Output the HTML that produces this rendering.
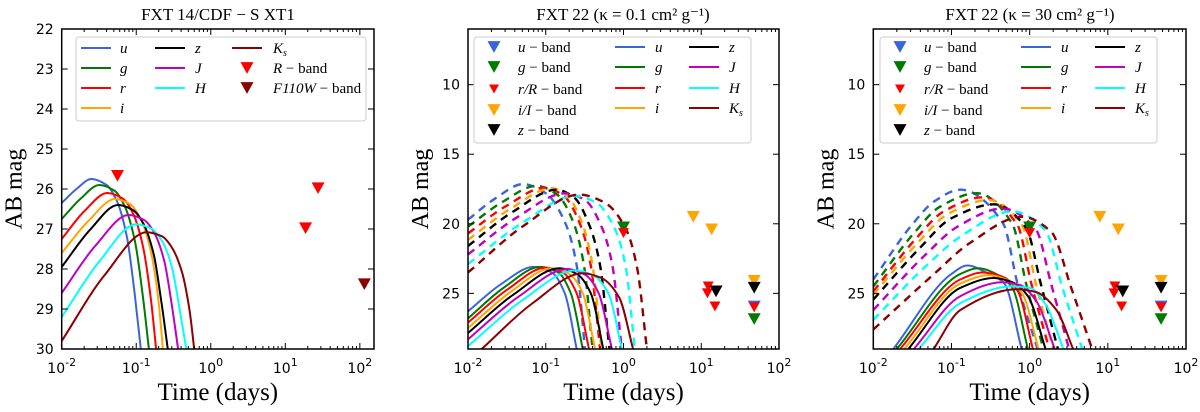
<!DOCTYPE html>
<html><head><meta charset="utf-8">
<style>
html,body{margin:0;padding:0;background:#fff;}
svg{display:block;}
.tick{font-family:"DejaVu Sans","Liberation Sans",sans-serif;font-size:14px;fill:#000;}
.ser{font-family:"Liberation Serif","DejaVu Serif",serif;fill:#000;}
.it{font-style:italic;}
</style></head>
<body>
<svg id="chart" width="1200" height="412" viewBox="0 0 1200 412" xmlns="http://www.w3.org/2000/svg"></svg>
<script>
const bandNames = ['u','g','r','i','z','J','H','Ks'];
const bandColors = ['#3a64dc','#007a00','#ff0000','#ffa500','#000000','#bf00bf','#00ffff','#8b0000'];

// Panel 1 model curves (time in days, AB mag)
const p1T = [
 [0.01,0.016,0.025,0.04,0.055,0.075,0.095,0.115],
 [0.01,0.018,0.032,0.051,0.070,0.096,0.122,0.148],
 [0.01,0.02,0.041,0.066,0.09,0.123,0.156,0.185],
 [0.01,0.023,0.052,0.083,0.114,0.156,0.198,0.228],
 [0.01,0.024,0.057,0.091,0.125,0.171,0.217,0.265],
 [0.01,0.028,0.079,0.126,0.174,0.237,0.30,0.365],
 [0.01,0.032,0.10,0.16,0.22,0.30,0.38,0.47],
 [0.01,0.037,0.138,0.22,0.30,0.41,0.52,0.6]];
const p1M = [
 [26.35,25.99,25.75,25.9,26.3,27.2,28.6,30],
 [26.75,26.24,25.9,26.04,26.43,27.3,28.65,30],
 [27.25,26.56,26.1,26.24,26.6,27.43,28.7,30],
 [27.6,26.79,26.25,26.38,26.74,27.53,28.76,30],
 [27.95,27.02,26.4,26.53,26.87,27.62,28.81,30],
 [28.6,27.43,26.65,26.77,27.09,27.79,28.9,30],
 [29.2,27.81,26.88,26.99,27.29,27.94,28.97,30],
 [29.8,28.17,27.08,27.18,27.46,28.07,29.04,30]];
const p1RbandT = [0.056,18.7,27.5];
const p1RbandM = [25.67,26.98,25.98];
const p1F110T = [115];
const p1F110M = [28.38];

// Panel 2 (kappa=0.1) solid model curves
const p2sT = [
 [0.01,0.026,0.07,0.12,0.176,0.25],
 [0.01,0.029,0.085,0.145,0.21,0.30],
 [0.01,0.032,0.10,0.17,0.25,0.36],
 [0.01,0.035,0.12,0.2,0.30,0.43],
 [0.01,0.039,0.15,0.25,0.38,0.55],
 [0.01,0.044,0.19,0.32,0.48,0.71],
 [0.01,0.049,0.24,0.42,0.65,0.95],
 [0.015,0.067,0.30,0.52,0.88,1.33]];
const p2sM = [
 [26.3,24.38,23.1,23.5,25.0,29],
 [26.8,24.58,23.1,23.5,25.0,29],
 [27.1,24.73,23.15,23.55,25.0,29],
 [27.5,24.92,23.2,23.6,25.0,29],
 [27.85,25.06,23.2,23.6,25.0,29],
 [28.3,25.27,23.25,23.65,25.0,29],
 [28.8,25.53,23.35,23.75,25.1,29],
 [29.0,25.73,23.55,23.9,25.3,29]];
// Panel 2 dashed model curves
const p2dT = [
 [0.01,0.0226,0.051,0.1,0.18,0.25,0.32],
 [0.01,0.0276,0.076,0.14,0.23,0.31,0.40],
 [0.01,0.031,0.098,0.17,0.28,0.38,0.50],
 [0.01,0.035,0.12,0.19,0.3,0.4,0.52],
 [0.01,0.037,0.138,0.23,0.37,0.5,0.66],
 [0.01,0.042,0.18,0.32,0.53,0.72,0.95],
 [0.01,0.049,0.24,0.45,0.78,1.06,1.4],
 [0.01,0.052,0.27,0.58,1.1,1.5,2.0]];
const p2dM = [
 [19.7,18.17,17.15,17.8,20,23,29],
 [20.2,18.44,17.27,17.9,20,23,29],
 [20.7,18.72,17.4,18.0,20.1,23,29],
 [21.15,18.93,17.45,18.0,20.1,23,29],
 [21.6,19.17,17.55,18.1,20.2,23,29],
 [22.2,19.56,17.8,18.3,20.3,23,29],
 [22.9,19.96,18.0,18.5,20.4,23,29],
 [23.5,20.14,17.9,18.5,20.5,23.2,29]];

// Panel 3 (kappa=30) solid model curves
const p3sT = [
 [0.018,0.1,0.16,0.3,0.47,0.79],
 [0.02,0.13,0.22,0.4,0.6,0.95],
 [0.022,0.13,0.25,0.45,0.7,1.1],
 [0.025,0.13,0.3,0.5,0.8,1.3],
 [0.028,0.13,0.35,0.6,0.95,1.6],
 [0.033,0.13,0.45,0.75,1.2,2.1],
 [0.038,0.13,0.6,1.0,1.6,2.7],
 [0.059,0.13,0.69,1.2,2.2,3.6]];
const p3sM = [
 [29,23.6,23.0,23.6,24.25,29],
 [29,23.6,23.2,23.7,24.6,29],
 [29,24.0,23.5,23.8,24.8,29],
 [29,24.3,23.7,24.0,25.0,29],
 [29,24.6,23.9,24.2,25.2,29],
 [29,25.2,24.2,24.4,25.5,29],
 [29,25.7,24.5,24.6,25.8,29],
 [29,26.2,24.7,24.9,26.2,29]];
// Panel 3 dashed model curves
const p3dT = [
 [0.01,0.031,0.06,0.13,0.46,0.7,1.26],
 [0.01,0.034,0.07,0.21,0.6,0.9,1.5],
 [0.01,0.036,0.08,0.25,0.7,1.05,1.78],
 [0.01,0.038,0.09,0.3,0.8,1.2,2.0],
 [0.01,0.04,0.1,0.35,0.9,1.4,2.3],
 [0.01,0.045,0.12,0.45,1.2,1.9,3.2],
 [0.01,0.05,0.14,0.6,1.6,2.6,4.7],
 [0.01,0.06,0.17,0.8,1.9,3.4,6.3]];
const p3dM = [
 [24.0,20.1,18.4,17.55,20,24.3,29],
 [24.5,20.6,18.8,17.8,20,24.3,29],
 [24.85,21.0,19.1,18.1,20.1,24.3,29],
 [25.1,21.3,19.3,18.3,20.1,24.3,29],
 [25.45,21.7,19.6,18.6,20.3,24.4,29],
 [26.2,22.3,20.2,18.9,20.4,24.4,29],
 [26.9,22.9,20.8,19.1,20.5,24.5,29],
 [27.6,23.6,21.4,19.5,20.6,24.6,29]];

// Observed upper limits (FXT 22), panels 2 & 3
const obsT = [1.0,1.0,7.9,13.6,12.3,12.0,15.0,15.5,48,48,48,48,48];
const obsM = [20.26,20.67,19.5,20.4,24.5,25.0,25.94,24.86,24.1,24.6,25.94,26.0,26.85];
const obsBand = ['g','r','i','i','r','r','r','z','i','z','u','r','g'];

const svg = document.getElementById('chart');
const NS = 'http://www.w3.org/2000/svg';
function mk(tag, attrs, parent){
  const e = document.createElementNS(NS, tag);
  for (const k in attrs) e.setAttribute(k, attrs[k]);
  (parent||svg).appendChild(e);
  return e;
}
const panels = [
 {x0:61.7,x1:374,lmin:-2,lmax:2.19,y0:29,y1:349,mtop:22,mbot:30,yt:[22,23,24,25,26,27,28,29,30]},
 {x0:468,x1:779,lmin:-2,lmax:2,y0:29,y1:349,mtop:6,mbot:29,yt:[10,15,20,25]},
 {x0:873.3,x1:1186,lmin:-2,lmax:2,y0:29,y1:349,mtop:6,mbot:29,yt:[10,15,20,25]}];
function sx(p,t){return p.x0+(Math.log10(t)-p.lmin)/(p.lmax-p.lmin)*(p.x1-p.x0);}
function sy(p,m){return p.y0+(m-p.mtop)/(p.mbot-p.mtop)*(p.y1-p.y0);}

function pathFor(p,T,M){
  const xs=T.map(t=>sx(p,t)), ys=M.map(m=>sy(p,m));
  const n=xs.length, d=[], m=[];
  for(let i=0;i<n-1;i++) d.push((ys[i+1]-ys[i])/(xs[i+1]-xs[i]));
  m[0]=d[0]; m[n-1]=d[n-2];
  for(let i=1;i<n-1;i++){
    if(d[i-1]*d[i]<=0) m[i]=0;
    else { const h0=xs[i]-xs[i-1], h1=xs[i+1]-xs[i];
      m[i]=3*(h0+h1)/((2*h1+h0)/d[i-1]+(h1+2*h0)/d[i]); }
  }
  let s='M'+xs[0].toFixed(1)+','+ys[0].toFixed(1);
  for(let i=0;i<n-1;i++){
    const h=xs[i+1]-xs[i];
    s+=' C'+(xs[i]+h/3).toFixed(1)+','+(ys[i]+m[i]*h/3).toFixed(1)+' '+(xs[i+1]-h/3).toFixed(1)+','+(ys[i+1]-m[i+1]*h/3).toFixed(1)+' '+xs[i+1].toFixed(1)+','+ys[i+1].toFixed(1);
  }
  return s;
}
function tri(g,x,y,s,color,name){
  const h=s*0.9;
  const e=mk('polygon',{points:(x-s/2)+','+(y-h/2)+' '+(x+s/2)+','+(y-h/2)+' '+x+','+(y+h/2),fill:color},g);
  
  
  return e;
}

panels.forEach((p,pi)=>{
  const g=mk('g',{});
  
  
  const cid='clip'+pi;
  const cp=mk('clipPath',{id:cid},g);
  mk('rect',{x:p.x0,y:p.y0,width:p.x1-p.x0,height:p.y1-p.y0},cp);
  const plot=mk('g',{'clip-path':'url(#'+cid+')'},g);
  
  
  for(let d=p.lmin; d<=Math.floor(p.lmax); d++){
    for(let k=1;k<10;k++){
      const t=k*Math.pow(10,d);
      if(Math.log10(t)>p.lmax+1e-9) break;
      const x=sx(p,t), len=k===1?6:3;
      mk('line',{x1:x,x2:x,y1:p.y1,y2:p.y1-len,stroke:'#000','stroke-width':1},g);
      mk('line',{x1:x,x2:x,y1:p.y0,y2:p.y0+len,stroke:'#000','stroke-width':1},g);
      if(k===1){
        const tx=mk('text',{x:x,y:p.y1+24,'text-anchor':'middle',class:'tick'},g);
        
        
        tx.textContent='10';
        const sp=mk('tspan',{dy:-7,'font-size':'11px'},tx);
        sp.textContent=String(d);
      }
    }
  }
  p.yt.forEach(m=>{
    const y=sy(p,m);
    mk('line',{x1:p.x0,x2:p.x0+6,y1:y,y2:y,stroke:'#000','stroke-width':1},g);
    mk('line',{x1:p.x1,x2:p.x1-6,y1:y,y2:y,stroke:'#000','stroke-width':1},g);
    const tx=mk('text',{x:p.x0-8,y:y+5,'text-anchor':'end',class:'tick'},g);
    
    
    tx.textContent=String(m);
  });
  const sets = pi===0 ? [[p1T,p1M,false]] : pi===1 ? [[p2dT,p2dM,true],[p2sT,p2sM,false]] : [[p3dT,p3dM,true],[p3sT,p3sM,false]];
  sets.forEach(([T,M,dash])=>{
    T.forEach((tt,bi)=>{
      const e=mk('path',{d:pathFor(p,tt,M[bi]),fill:'none',stroke:bandColors[bi],'stroke-width':dash?2.4:2,'stroke-dasharray':dash?'8,6':'none'},plot);
      
      
    });
  });
  if(pi===0){
    p1RbandT.forEach((t,i)=>tri(plot,sx(p,t),sy(p,p1RbandM[i]),13,'#ff0000','r-band-limit'));
    p1F110T.forEach((t,i)=>tri(plot,sx(p,t),sy(p,p1F110M[i]),13,'#8b0000','f110w-band-limit'));
  } else {
    obsT.forEach((t,i)=>{
      const bi=bandNames.indexOf(obsBand[i]);
      tri(plot,sx(p,t),sy(p,obsM[i]),obsBand[i]==='r'?11:13,bandColors[bi],obsBand[i]+'-band-limit');
    });
  }
  mk('rect',{x:p.x0,y:p.y0,width:p.x1-p.x0,height:p.y1-p.y0,fill:'none',stroke:'#000','stroke-width':1.5},g);
  const xl=mk('text',{x:(p.x0+p.x1)/2,y:400,'text-anchor':'middle',class:'ser','font-size':'25px'},g);
  
  
  xl.textContent='Time (days)';
  const yx=p.x0-40, yy=189;
  const yl=mk('text',{x:yx,y:yy,'text-anchor':'middle',class:'ser','font-size':'24px',transform:'rotate(-90 '+yx+' '+yy+')'},g);
  
  
  yl.textContent='AB mag';
});

const titles=[[218,'FXT 14/CDF − S XT1'],[623,'FXT 22 (κ = 0.1 cm² g⁻¹)'],[1030,'FXT 22 (κ = 30 cm² g⁻¹)']];
titles.forEach(([x,s])=>{
  const t=mk('text',{x:x,y:20,'text-anchor':'middle',class:'ser','font-size':'17px'});
  
  
  t.textContent=s;
});

function legText(g,x,y,main,italic,rest){
  const t=mk('text',{x:x,y:y+5,class:'ser','font-size':'15px'},g);
  const a=mk('tspan',{class:'it'},t); a.textContent=main;
  if(rest){const b=mk('tspan',{},t); b.textContent=rest;}
  return t;
}
function legLine(g,x,y,color){mk('line',{x1:x,x2:x+30,y1:y,y2:y,stroke:color,'stroke-width':2},g);}
(function(){
  const g=mk('g',{});
  
  
  mk('rect',{x:76,y:37,width:290,height:84,rx:3,fill:'#fff',stroke:'#ccc'},g);
  const rows=[48,68,88,108];
  [0,1,2,3].forEach((bi,i)=>{legLine(g,81,rows[i],bandColors[bi]);legText(g,120,rows[i],bandNames[bi]);});
  [4,5,6].forEach((bi,i)=>{legLine(g,155,rows[i],bandColors[bi]);legText(g,195,rows[i],bandNames[bi]);});
  legLine(g,232,rows[0],bandColors[7]);
  const k=legText(g,273,rows[0],'K'); const s=mk('tspan',{class:'it','font-size':'10px',dy:3},k); s.textContent='s';
  tri(g,247,rows[1],13,'#ff0000','legend-r-band-marker');
  legText(g,273,rows[1],'R',true,' − band');
  tri(g,247,rows[2],13,'#8b0000','legend-f110w-marker');
  legText(g,273,rows[2],'F110W',true,' − band');
})();
function legend23(off,name){
  const g=mk('g',{});
  
  
  mk('rect',{x:474+off,y:37,width:277,height:106,rx:3,fill:'#fff',stroke:'#ccc'},g);
  const rows=[47,67,89,110,130];
  const tri1=[[0,'u',' − band',13],[1,'g',' − band',13],[2,'r/R',' − band',10],[3,'i/I',' − band',13],[4,'z',' − band',13]];
  tri1.forEach(([bi,m,r,s],i)=>{tri(g,494+off,rows[i],s,bandColors[bi],'legend-'+bandNames[bi]+'-band-marker');legText(g,518+off,rows[i],m,true,r);});
  const lr=[47,67,88,108];
  [0,1,2,3].forEach((bi,i)=>{legLine(g,615+off,lr[i],bandColors[bi]);legText(g,655+off,lr[i],bandNames[bi]);});
  [4,5,6].forEach((bi,i)=>{legLine(g,689+off,lr[i],bandColors[bi]);legText(g,729+off,lr[i],bandNames[bi]);});
  legLine(g,689+off,lr[3],bandColors[7]);
  const k=legText(g,729+off,lr[3],'K'); const s=mk('tspan',{class:'it','font-size':'10px',dy:3},k); s.textContent='s';
}
legend23(0,'legend-panel-2');
legend23(406,'legend-panel-3');
</script>
</body></html>
